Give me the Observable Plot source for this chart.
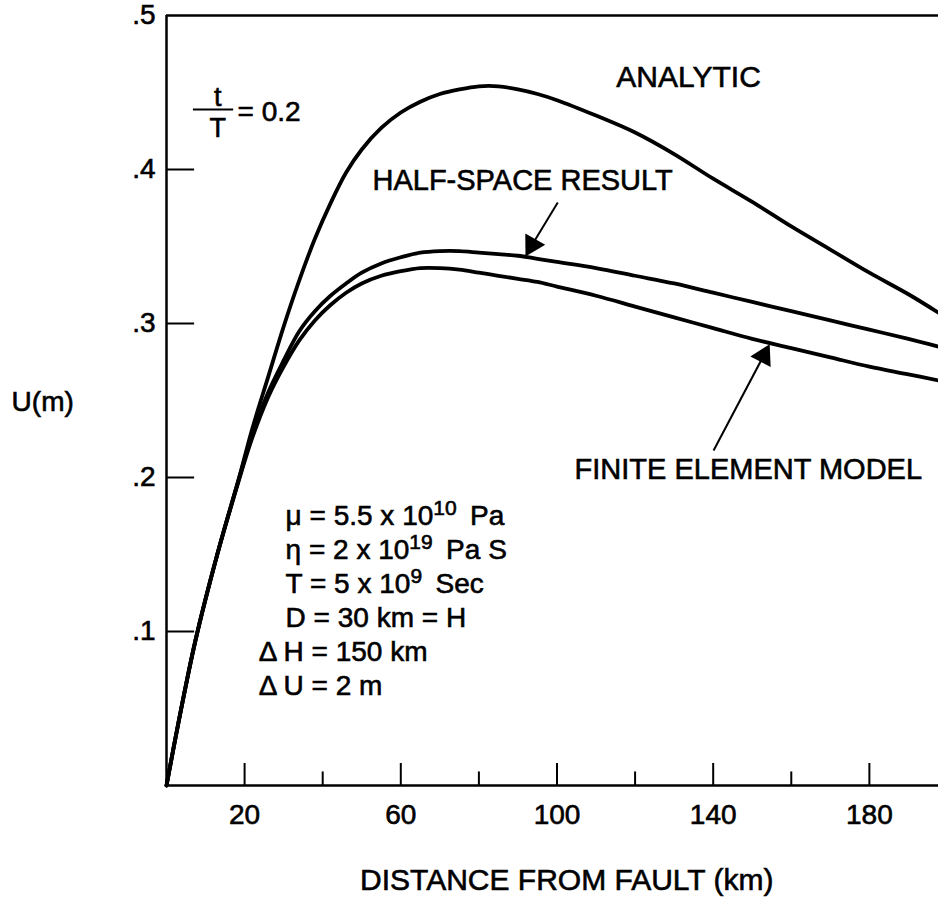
<!DOCTYPE html>
<html><head><meta charset="utf-8">
<script src="https://cdn.jsdelivr.net/npm/d3@7"></script>
<script src="https://cdn.jsdelivr.net/npm/@observablehq/plot@0.6"></script>
<style>
html,body{margin:0;padding:0;background:#fff;}
#chart svg text{stroke:#000;stroke-width:0.6px;paint-order:stroke;}
</style>
</head><body><div id="chart"></div>
<script>
// ---- data ----
const distance = [0,3,7.4,13,18.4,22,26,30,34,38,42,46,50,55,60,65,70,75,80,85,90,95,100,110,120,130,140,150,160,170,180,190,197.7];
const analytic = [0,0.040,0.094,0.150,0.198,0.232,0.265,0.298,0.328,0.355,0.378,0.398,0.413,0.427,0.437,0.444,0.449,0.452,0.454,0.454,0.452,0.449,0.445,0.435,0.424,0.410,0.394,0.379,0.363,0.348,0.333,0.319,0.307];
const halfSpace = [0,0.040,0.094,0.150,0.198,0.228,0.255,0.276,0.295,0.308,0.318,0.326,0.333,0.339,0.343,0.346,0.347,0.347,0.346,0.345,0.344,0.342,0.340,0.336,0.331,0.326,0.320,0.314,0.308,0.302,0.296,0.290,0.285];
const finiteElement = [0,0.040,0.094,0.150,0.197,0.226,0.252,0.272,0.289,0.302,0.312,0.320,0.326,0.331,0.334,0.336,0.336,0.335,0.333,0.331,0.329,0.327,0.324,0.318,0.311,0.304,0.297,0.290,0.284,0.278,0.272,0.267,0.263];
const xMajorTicks = [20,60,100,140,180];
const xMinorTicks = [40,80,120,160];
const yTicks = [0.1,0.2,0.3,0.4,0.5];
const seriesNames = ["ANALYTIC","HALF-SPACE RESULT","FINITE ELEMENT MODEL"];
const params = ["μ = 5.5 x 10^10 Pa","η = 2 x 10^19 Pa S","T = 5 x 10^9 Sec","D = 30 km = H","Δ H = 150 km","Δ U = 2 m"];
const xTitle = "DISTANCE FROM FAULT (km)";
const yTitle = "U(m)";
const ratioText = "= 0.2";

const toRows = (ys) => distance.map((x, i) => ({x, y: ys[i]}));
const xMax = 197.7;

const chart = Plot.plot({
  width: 938, height: 907,
  marginLeft: 166, marginRight: 0, marginTop: 15, marginBottom: 122,
  x: {domain: [0, xMax]},
  y: {domain: [0, 0.5]},
  style: {fontFamily: "'Liberation Sans', Arial, sans-serif", color: "black", background: "white", overflow: "visible"},
  marks: [
    // frame (left, bottom, top)
    Plot.ruleX([0], {y1: 0, y2: 0.5, strokeWidth: 2.5}),
    Plot.ruleY([0], {x1: 0, x2: xMax, strokeWidth: 2.5}),
    Plot.ruleY([0.5], {x1: 0, x2: xMax, strokeWidth: 2.5}),
    // inward ticks
    Plot.ruleY(yTicks.filter(v => v < 0.5), {x1: 0, x2: 7.2, strokeWidth: 2}),
    Plot.ruleX(xMajorTicks, {y1: 0, y2: 0.0143, strokeWidth: 2}),
    Plot.ruleX(xMinorTicks, {y1: 0, y2: 0.0088, strokeWidth: 2}),
    // tick labels
    Plot.axisX(xMajorTicks, {tickSize: 0, tickPadding: 19, fontSize: 28, label: null}),
    Plot.axisY(yTicks, {tickSize: 0, tickPadding: 11, fontSize: 28, label: null,
      tickFormat: d => d3.format(".1f")(d).replace(/^0/, "")}),
    // curves
    Plot.line(toRows(analytic), {x: "x", y: "y", strokeWidth: 3.8, curve: "catmull-rom"}),
    Plot.line(toRows(halfSpace), {x: "x", y: "y", strokeWidth: 3.8, curve: "catmull-rom"}),
    Plot.line(toRows(finiteElement), {x: "x", y: "y", strokeWidth: 3.8, curve: "catmull-rom"}),
    // series labels
    Plot.text([seriesNames[0]], {x: 133.7, y: 0.460, text: d => d, fontSize: 30}),
    Plot.text([seriesNames[1]], {x: 91.2, y: 0.393, text: d => d, fontSize: 29}),
    Plot.text([seriesNames[2]], {x: 149.0, y: 0.205, text: d => d, fontSize: 29}),
    // arrows (shaft + filled head)
    Plot.link([0], {x1: 100.2, y1: 0.3786, x2: 93.6, y2: 0.351, strokeWidth: 2}),
    Plot.dot([0], {x: 93.6, y: 0.351, symbol: "triangle", r: 8.5, fill: "black", stroke: "none", rotate: 209.5}),
    Plot.link([0], {x1: 140.1, y1: 0.2175, x2: 152.9, y2: 0.279, strokeWidth: 2}),
    Plot.dot([0], {x: 152.9, y: 0.279, symbol: "triangle", r: 8.5, fill: "black", stroke: "none", rotate: 27.6}),
    // t/T ratio
    Plot.text(["t"], {x: 13.1, y: 0.4468, text: d => d, fontSize: 27}),
    Plot.ruleY([0.439], {x1: 6.9, x2: 17.2, strokeWidth: 2}),
    Plot.text(["T"], {x: 13.1, y: 0.4266, text: d => d, fontSize: 27}),
    Plot.text([ratioText], {x: 18.2, y: 0.437, text: d => d, textAnchor: "start", fontSize: 28}),
    // parameter block
    Plot.text(params, {x: (d, i) => i < 4 ? 30.5 : 23.6, y: (d, i) => 0.1747 - i * 0.02208,
      text: d => d, textAnchor: "start", fontSize: 28}),
    // axis titles
    Plot.text([xTitle], {x: 102.5, y: -0.0617, text: d => d, fontSize: 30}),
    Plot.text([yTitle], {x: -31.7, y: 0.2487, text: d => d, fontSize: 28})
  ]
});

// superscripts (10^10 etc.)
d3.select(chart).selectAll("text").filter(function() { return this.textContent.includes("^"); }).each(function() {
  const t = this.textContent;
  const parts = t.split(/\^(\d+)/);
  const sel = d3.select(this);
  sel.text(null);
  parts.forEach((p, k) => {
    if (!p) return;
    if (k % 2 === 1) {
      sel.append("tspan").attr("dy", -10).attr("font-size", 21).text(p);
      sel.append("tspan").attr("dy", 10).text("\u2009");
    } else {
      sel.append("tspan").text(p);
    }
  });
});

document.getElementById("chart").appendChild(chart);
</script>
</body></html>
